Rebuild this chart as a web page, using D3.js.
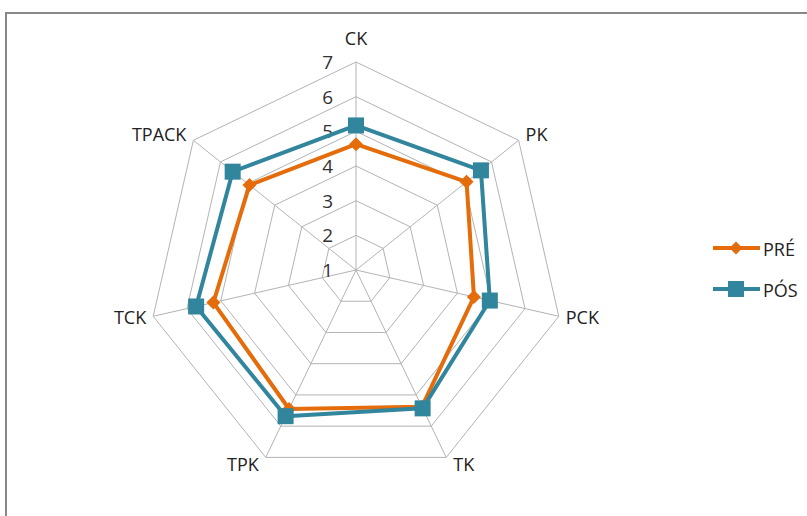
<!DOCTYPE html>
<html><head><meta charset="utf-8">
<script src="https://cdn.jsdelivr.net/npm/d3@7"></script>
<style>
html,body{margin:0;padding:0;background:#fff;}
svg{display:block;font-family:"Open Sans","Noto Sans",sans-serif;}
</style></head>
<body>
<svg id="chart" width="807" height="516"></svg>
<script>
const categories = ["CK","PK","PCK","TK","TPK","TCK","TPACK"];
const preValues = [4.63, 5.08, 4.49, 5.38, 5.45, 5.22, 4.93];
const posValues = [5.17, 5.61, 4.96, 5.43, 5.68, 5.73, 5.55];
const tickValues = [1,2,3,4,5,6,7];
const seriesNames = ["PRÉ","PÓS"];
const seriesColors = ["#E46C0A","#31859C"];

const svg = d3.select("#chart");
const W = 807, H = 516;
const cx = 356, cy = 270, R = 208;

// chart border
svg.append("rect").attr("x",6).attr("y",13).attr("width",W+10).attr("height",H+10)
  .attr("fill","#fff").attr("stroke","#888").attr("stroke-width",2);

const r = d3.scaleLinear().domain([1,7]).range([0,R]);
const ang = d3.scaleLinear().domain([0,categories.length]).range([0,2*Math.PI]);
const pt = (i,v) => {
  const a = ang(i);
  return [cx + r(v)*Math.sin(a), cy - r(v)*Math.cos(a)];
};

const g = svg.append("g");
// rings
tickValues.filter(t=>t>1).forEach(t=>{
  g.append("path")
    .attr("d", d3.line()(categories.map((c,i)=>pt(i,t))) + "Z")
    .attr("fill","none").attr("stroke","#b3b3b3").attr("stroke-width",1);
});
// spokes
categories.forEach((c,i)=>{
  const [x,y] = pt(i,7);
  g.append("line").attr("x1",cx).attr("y1",cy).attr("x2",x).attr("y2",y)
    .attr("stroke","#b3b3b3").attr("stroke-width",1);
});
// tick labels
tickValues.forEach(t=>{
  g.append("text").attr("x",cx-23).attr("y",cy - r(t))
    .attr("text-anchor","end").attr("dominant-baseline","central")
    .attr("font-size",19).attr("fill","#333").text(t);
});
// category labels
categories.forEach((c,i)=>{
  const [vx,vy] = pt(i,7);
  const a = ang(i), s = Math.sin(a), co = Math.cos(a);
  let x = vx, y = vy, anchor = "middle";
  if (co > 0.9) { y = vy - 24; }
  else {
    x = vx + (s>0 ? 7 : -7);
    anchor = s>0 ? "start" : "end";
    if (co > 0.3) y = vy - 6;
    else if (co > -0.5) y = vy + 1;
    else y = vy + 7;
  }
  g.append("text").attr("x",x).attr("y",y)
    .attr("text-anchor",anchor).attr("dominant-baseline","central")
    .attr("font-size",18).attr("fill","#222").text(c);
});

// series
const series = [preValues, posValues];
const lineGen = d3.line().curve(d3.curveLinearClosed);
series.forEach((vals,k)=>{
  const pts = vals.map((v,i)=>pt(i,v));
  g.append("path").attr("d", lineGen(pts)).attr("fill","none")
    .attr("stroke",seriesColors[k]).attr("stroke-width",4).attr("stroke-linejoin","round");
  pts.forEach(p=>{
    if (k===0) {
      g.append("path").attr("d", d3.symbol(d3.symbolDiamond2, 125)())
        .attr("transform",`translate(${p[0]},${p[1]})`).attr("fill",seriesColors[k]);
    } else {
      g.append("rect").attr("x",p[0]-8).attr("y",p[1]-8).attr("width",16).attr("height",16)
        .attr("fill",seriesColors[k]);
    }
  });
});

// legend
const lg = svg.append("g");
seriesNames.forEach((n,k)=>{
  const y = 248 + k*41;
  lg.append("line").attr("x1",713).attr("x2",760).attr("y1",y).attr("y2",y)
    .attr("stroke",seriesColors[k]).attr("stroke-width",4);
  if (k===0) {
    lg.append("path").attr("d", d3.symbol(d3.symbolDiamond2, 110)())
      .attr("transform",`translate(736,${y})`).attr("fill",seriesColors[k]);
  } else {
    lg.append("rect").attr("x",736-8).attr("y",y-8).attr("width",16).attr("height",16).attr("fill",seriesColors[k]);
  }
  lg.append("text").attr("x",763).attr("y",y+1).attr("dominant-baseline","central")
    .attr("font-size",18).attr("fill","#222").text(n);
});
</script>
</body></html>
